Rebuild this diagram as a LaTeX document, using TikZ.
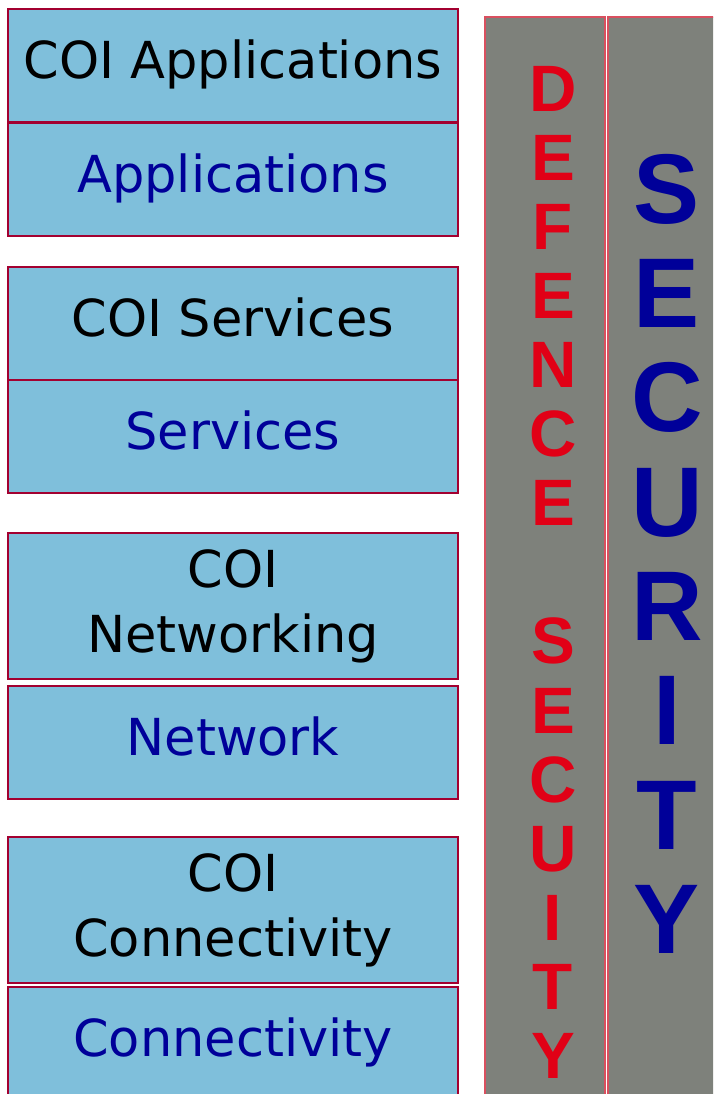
\documentclass[tikz,border=0pt]{standalone}
\usepackage{fontspec}
\setmainfont{DejaVu Sans}
\newfontfamily\barfont{Liberation Sans}
\usepackage{xcolor}
\usepackage{tikz}
\usetikzlibrary{positioning}
\definecolor{boxblue}{RGB}{127,191,219}
\definecolor{boxedge}{RGB}{163,0,48}
\definecolor{bargrey}{RGB}{126,129,123}
\definecolor{baredge}{RGB}{217,80,95}
\definecolor{labelblue}{RGB}{0,0,153}
\definecolor{barred}{RGB}{225,0,22}

\begin{document}
\begin{tikzpicture}[
    x=0.75pt, y=-0.75pt,
    layer_box/.style={draw=boxedge, fill=boxblue, line width=1.8pt, inner sep=0pt, outer sep=0pt,
        minimum width=337.5pt, minimum height=84.75pt, align=center,
        text height=29pt, text depth=9pt,
        font=\fontsize{38.25pt}{48.75pt}\selectfont},
    coi_box/.style={layer_box, text=black},
    base_box/.style={layer_box, text=labelblue},
    tall_box/.style={minimum height=109.5pt, text height=, text depth=},
    bar_box/.style={draw=baredge, fill=bargrey, line width=1.5pt, inner sep=0pt, outer sep=0pt,
        anchor=north west, minimum height=827pt},
    red_stack/.style={anchor=north, inner sep=0pt, align=center, text=barred,
        font=\barfont\bfseries\fontsize{49.2pt}{51.8pt}\selectfont},
    blue_stack/.style={anchor=north, inner sep=0pt, align=center, text=labelblue,
        font=\barfont\bfseries\fontsize{74.3pt}{78.2pt}\selectfont}
]
\useasboundingbox (0,0) rectangle (713,1094);
\clip (0,0) rectangle (713,1094);

% left stack of layers
\node (coiapp) [coi_box] at (233,65.5) {COI Applications};
\node (app)    [base_box, below=0.75pt of coiapp] {Applications};

\node (coisrv) [coi_box, below=23.25pt of app] {COI Services};
\node (srv)    [base_box, below=0pt of coisrv] {Services};

\node (coinet) [coi_box, tall_box, below=30pt of srv] {COI\\Networking};
\node (net)    [base_box, below=5.25pt of coinet] {Network};

\node (coicon) [coi_box, tall_box, below=28.5pt of net] {COI\\Connectivity};
\node (con)    [base_box, below=3pt of coicon] {Connectivity};

% right security columns
\node (defencebar)  [bar_box, minimum width=90pt] at (485,17) {};
\node (securitybar) [bar_box, minimum width=99pt] at (608,17) {};

\node (defence)  [red_stack]  at (553,66)
    {D\\E\\F\\E\\N\\C\\E\\~\\S\\E\\C\\U\\I\\T\\Y};
\node (security) [blue_stack] at (667,154)
    {S\\E\\C\\U\\R\\I\\T\\Y};

\end{tikzpicture}
\end{document}
